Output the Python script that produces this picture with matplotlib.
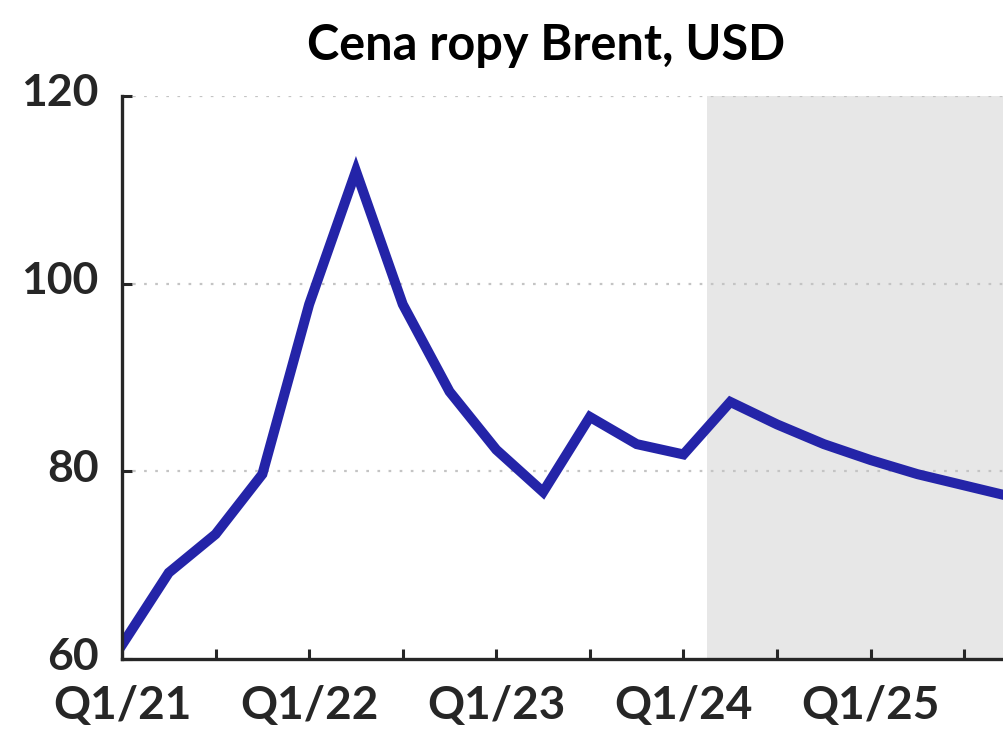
import matplotlib.pyplot as plt
import matplotlib.transforms as mtransforms

plt.rcParams['font.family'] = ['Lato', 'DejaVu Sans']

# quarterly Brent price, Q1/21 .. Q4/25 (forecast from Q2/24)
quarters = list(range(20))
price = [61.5, 69.2, 73.3, 79.7, 97.8, 112.0, 97.8, 88.5, 82.3, 77.8,
         85.8, 82.9, 81.8, 87.4, 85.0, 82.9, 81.2, 79.7, 78.5, 77.3]
year_ticks = [0, 4, 8, 12, 16]
year_labels = ['Q1/21', 'Q1/22', 'Q1/23', 'Q1/24', 'Q1/25']
half_ticks = [2, 6, 10, 14, 18]
y_ticks = [60, 80, 100, 120]
forecast_start = 12.5

dark = '#262626'
fig = plt.figure(figsize=(10.04, 7.30), dpi=100)
ax = fig.add_axes([122/1004, 1 - 659/730, 1 - 122/1004, (659 - 96)/730])

ax.set_xlim(0, 18.85)
ax.set_ylim(60, 120)

ax.axvspan(forecast_start, 20, color='#e7e7e7', lw=0, zorder=1)
for y in y_ticks[1:]:
    ax.axhline(y, color='#c4c4c4', lw=1.6, ls=(0, (1.2, 3.8)), zorder=1.5,
               xmin=0.012)

ax.plot(quarters, price, color='#2424a8', lw=7.2, solid_joinstyle='miter',
        zorder=3, clip_on=True)

for s in ['top', 'right']:
    ax.spines[s].set_visible(False)
for s in ['left', 'bottom']:
    ax.spines[s].set_color(dark)
    ax.spines[s].set_linewidth(2.4)
    ax.spines[s].set_zorder(4)

ax.set_yticks(y_ticks)
ax.set_xticks(year_ticks)
ax.set_xticklabels(year_labels)
ax.set_xticks(half_ticks, minor=True)
ax.tick_params(axis='both', which='both', direction='in', length=7, width=2.2,
               color=dark, labelcolor=dark)
ax.tick_params(axis='y', pad=17, labelsize=32)
ax.tick_params(axis='x', pad=19, labelsize=33)

# y labels sit a little above their ticks in the original
shift = mtransforms.ScaledTranslation(0, 6/100, fig.dpi_scale_trans)
for lab in ax.get_yticklabels():
    lab.set_fontweight('bold')
    lab.set_transform(lab.get_transform() + shift)
for lab in ax.get_xticklabels():
    lab.set_fontweight('bold')

fig.text(546/1004, 1 - 46/730, 'Cena ropy Brent, USD', ha='center', va='center',
         fontsize=35, fontweight='bold', color='black')

fig.savefig('out.png', dpi=100)
